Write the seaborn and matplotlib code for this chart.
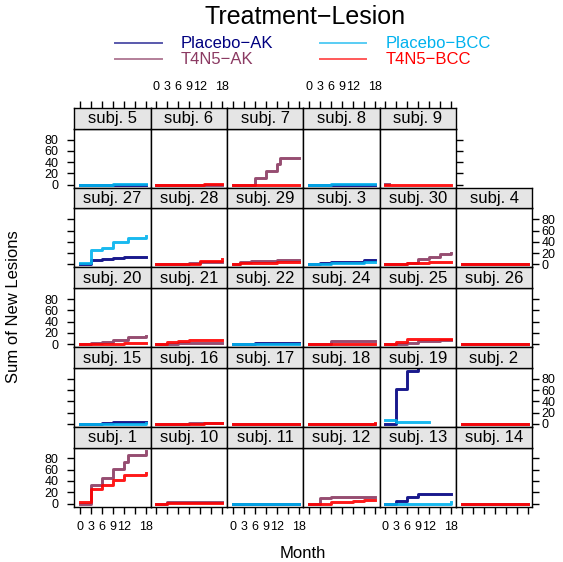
import numpy as np
import pandas as pd
import matplotlib
matplotlib.use("Agg")
import matplotlib.pyplot as plt
from matplotlib.lines import Line2D
import seaborn as sns

plt.rcParams['font.family'] = ['Liberation Sans', 'DejaVu Sans']

# ---------------- data ----------------
groups = ["Placebo\u2212AK", "Placebo\u2212BCC", "T4N5\u2212AK", "T4N5\u2212BCC"]
group_colors = ["#000080", "#00B2EE", "#8B3A62", "#FF0000"]

layout_rows = [
    [5, 6, 7, 8, 9],
    [27, 28, 29, 3, 30, 4],
    [20, 21, 22, 24, 25, 26],
    [15, 16, 17, 18, 19, 2],
    [1, 10, 11, 12, 13, 14],
]

# cumulative lesion counts: subject -> [(month, value), ...]
placebo_ak = {
    5: [(0, 0), (18, 0)],
    8: [(0, 0), (18, 0)],
    27: [(0, 1), (3, 7), (6, 9), (9, 11), (12, 13), (13, 14), (18, 14)],
    3: [(0, 0), (3, 3), (6, 4), (12, 5), (15, 7), (18, 7)],
    22: [(0, 0), (6, 2), (18, 2)],
    15: [(0, 0), (6, 2), (9, 4), (18, 4)],
    19: [(0, 0), (3, 61), (6, 94), (9, 97)],
    11: [(0, 0), (18, 0)],
    13: [(0, 0), (3, 5), (6, 11), (9, 17), (18, 17)],
}
placebo_bcc = {
    5: [(0, 0), (9, 2), (18, 2)],
    8: [(0, 0), (6, 2), (18, 2)],
    27: [(0, 3), (3, 26), (6, 29), (9, 40), (13, 46), (18, 50)],
    3: [(0, 0), (3, 1), (6, 2), (12, 3), (15, 5), (18, 5)],
    22: [(0, 0), (18, 0)],
    15: [(0, 0), (18, 1)],
    19: [(0, 7), (3, 3), (12, 3)],
    11: [(0, 0), (18, 0)],
    13: [(0, 0), (18, 3)],
}
t4n5_ak = {
    6: [(0, 0), (18, 0)],
    7: [(0, 0), (6, 12), (9, 25), (12, 37), (13, 48), (18, 48)],
    9: [(0, 2), (1, 2)],
    28: [(0, 0), (9, 2), (12, 4), (18, 4)],
    29: [(0, 0), (2, 4), (5, 6), (12, 8), (18, 8)],
    30: [(0, 0), (6, 2), (9, 9), (12, 14), (15, 19), (18, 20)],
    4: [(0, 0), (18, 0)],
    20: [(0, 0), (3, 2), (6, 4), (9, 7), (13, 13), (18, 14)],
    21: [(0, 0), (3, 1), (6, 2), (18, 2)],
    24: [(0, 0), (6, 5), (15, 6), (18, 6)],
    25: [(0, 0), (6, 2), (9, 5), (12, 6), (15, 8), (18, 8)],
    26: [(0, 0), (18, 0)],
    16: [(0, 0), (9, 2), (18, 2)],
    17: [(0, 0), (18, 0)],
    18: [(0, 0), (18, 0)],
    2: [(0, 0), (18, 0)],
    1: [(0, 0), (3, 33), (6, 45), (9, 61), (12, 73), (13, 86), (18, 93)],
    10: [(0, 0), (3, 2), (18, 2)],
    12: [(0, 0), (3, 10), (6, 11), (18, 11)],
    14: [(0, 0), (18, 0)],
}
t4n5_bcc = {
    6: [(0, 0), (13, 2), (18, 2)],
    7: [(0, 0), (18, 0)],
    9: [(0, 0), (18, 0)],
    28: [(0, 0), (12, 6), (18, 9)],
    29: [(0, 0), (2, 2), (12, 4), (18, 4)],
    30: [(0, 0), (6, 2), (12, 5), (18, 5)],
    4: [(0, 0), (18, 1)],
    20: [(0, 0), (12, 2), (18, 2)],
    21: [(0, 0), (3, 3), (6, 6), (9, 8), (18, 8)],
    24: [(0, 0), (18, 1)],
    25: [(0, 0), (3, 3), (6, 9), (18, 9)],
    26: [(0, 0), (18, 0)],
    16: [(0, 0), (13, 2), (18, 2)],
    17: [(0, 0), (18, 0)],
    18: [(0, 0), (18, 1)],
    2: [(0, 0), (18, 0)],
    1: [(0, 2), (3, 26), (6, 33), (9, 42), (12, 50), (18, 55)],
    10: [(0, 0), (3, 1), (18, 1)],
    12: [(0, 0), (6, 2), (12, 5), (15, 6), (18, 7)],
    14: [(0, 0), (18, 0)],
}

x_ticks = [0, 3, 6, 9, 12, 15, 18]
x_tick_labels = ["0", "3", "6", "9", "12", "", "18"]
y_ticks = [0, 20, 40, 60, 80]

# -------------- build long table --------------
records = []
for gname, gdict in zip(groups, [placebo_ak, placebo_bcc, t4n5_ak, t4n5_bcc]):
    for subj, pts in gdict.items():
        for m, v in pts:
            records.append({"subj": subj, "group": gname, "Month": m, "Lesions": v})
df = pd.DataFrame(records)
palette = dict(zip(groups, group_colors))

# -------------- layout (pixels) --------------
W, H = 563, 562
X0, PW = 74.4, 76.3
Y0, SH, PH = 108.0, 20.7, 59.0
RH = SH + PH
XLIM = (-1.53, 19.28)
YLIM = (-5.3, 99.4)
LW_FRAME = 1.0
TICK_LEN = 5.0
TICK_FS = 9

fig = plt.figure(figsize=(W / 100, H / 100), dpi=100)
fig.patch.set_facecolor("white")

for r, row in enumerate(layout_rows):
    for c, subj in enumerate(row):
        x0 = X0 + c * PW
        st = Y0 + r * RH
        pt = st + SH
        ax = fig.add_axes([x0 / W, 1 - (pt + PH) / H, PW / W, PH / H])
        sax = fig.add_axes([x0 / W, 1 - (st + SH) / H, PW / W, SH / H])

        sub = df[df.subj == subj]
        present = [g for g in groups if g in set(sub.group)]
        sns.lineplot(data=sub, x="Month", y="Lesions", hue="group",
                     hue_order=present, palette=palette, estimator=None,
                     drawstyle="steps-post", linewidth=2.1, alpha=0.9,
                     legend=False, ax=ax)
        ax.set_xlabel("")
        ax.set_ylabel("")
        ax.set_xlim(*XLIM)
        ax.set_ylim(*YLIM)
        ax.set_xticks(x_ticks)
        ax.set_xticklabels(x_tick_labels)
        ax.set_yticks(y_ticks)
        ax.set_facecolor("white")
        ax.grid(False)
        for s in ax.spines.values():
            s.set_linewidth(LW_FRAME)
            s.set_color("black")
        last = (c == len(row) - 1)
        lab_right = last and (r % 2 == 1)
        ax.tick_params(axis="x", direction="out", length=TICK_LEN, width=LW_FRAME,
                       labelsize=TICK_FS, pad=5.5,
                       bottom=(r == len(layout_rows) - 1), top=False,
                       labelbottom=(r == len(layout_rows) - 1 and c % 2 == 0),
                       labeltop=False)
        ax.tick_params(axis="y", direction="out", length=TICK_LEN, width=LW_FRAME,
                       labelsize=TICK_FS, pad=(1.5 if lab_right else 6.5),
                       left=(c == 0), right=last,
                       labelleft=(c == 0 and r % 2 == 0),
                       labelright=lab_right)

        # strip
        sax.set_facecolor("#E5E5E5")
        sax.set_xlim(*XLIM)
        sax.set_ylim(0, 1)
        sax.set_yticks([])
        for s in sax.spines.values():
            s.set_linewidth(LW_FRAME)
            s.set_color("black")
        sax.text(0.5, 0.47, f"subj. {subj}", transform=sax.transAxes,
                 ha="center", va="center", fontsize=12)
        if r == 0:
            sax.set_xticks(x_ticks)
            sax.set_xticklabels(x_tick_labels)
            sax.tick_params(axis="x", direction="out", length=TICK_LEN,
                            width=LW_FRAME, labelsize=TICK_FS, pad=5.5,
                            top=True, bottom=False, labeltop=(c % 2 == 1),
                            labelbottom=False)
        else:
            sax.set_xticks([])

# -------------- title, legend, labels --------------
fig.text(305 / W, 1 - 17 / H, "Treatment\u2212Lesion", ha="center", va="center",
         fontsize=18)
leg_items = [
    (groups[0], group_colors[0], 115, 162, 181, 43),
    (groups[1], group_colors[1], 320, 366, 386, 43),
    (groups[2], group_colors[2], 115, 162, 181, 59),
    (groups[3], group_colors[3], 320, 366, 386, 59),
]
for name, col, lx0, lx1, tx, ty in leg_items:
    fig.add_artist(Line2D([lx0 / W, lx1 / W], [1 - ty / H, 1 - ty / H],
                          transform=fig.transFigure, color=col, lw=1.4, alpha=0.65))
    fig.text(tx / W, 1 - ty / H, name, ha="left", va="center", fontsize=12,
             color=col)

fig.text(14 / W, 1 - 307 / H, "Sum of New Lesions", rotation=90, ha="center",
         va="center", fontsize=12)
fig.text(303 / W, 1 - 553 / H, "Month", ha="center", va="center", fontsize=12)

fig.savefig("out.png", dpi=100, facecolor="white")
